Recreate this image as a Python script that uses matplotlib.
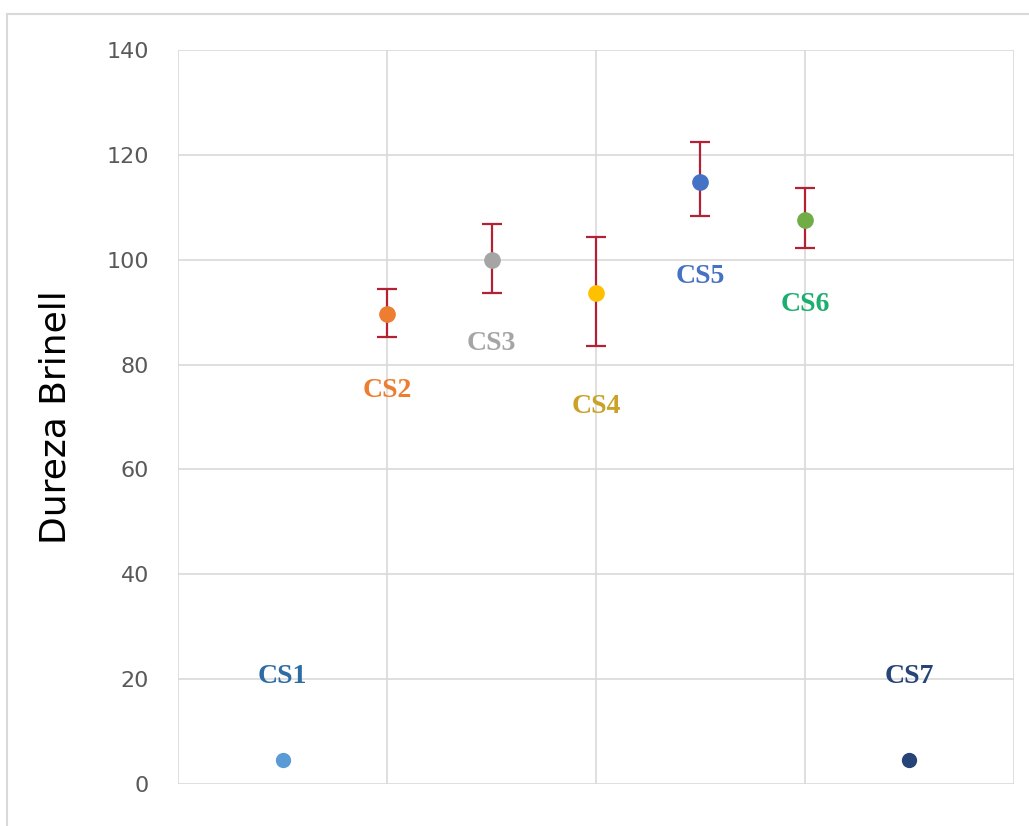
import numpy as np
import matplotlib.pyplot as plt
from matplotlib.lines import Line2D

samples = ["CS1", "CS2", "CS3", "CS4", "CS5", "CS6", "CS7"]
positions = [1, 2, 3, 4, 5, 6, 7]
hardness = [4.6, 89.6, 100.0, 93.6, 114.8, 107.6, 4.6]
err_low = [0.0, 4.4, 6.4, 10.0, 6.4, 5.4, 0.0]
err_high = [0.0, 4.8, 6.8, 10.8, 7.6, 6.1, 0.0]
label_y = [20.5, 75.0, 84.0, 72.0, 96.8, 91.4, 20.6]

marker_colors = ["#5B9BD5", "#ED7D31", "#A5A5A5", "#FFC000",
                 "#4472C4", "#70AD47", "#264478"]
label_colors = ["#2E6DA4", "#ED7D31", "#A5A5A5", "#C9A227",
                "#4472C4", "#1AAE6F", "#264478"]

fig = plt.figure(figsize=(10.29, 8.26), dpi=100)
ax = fig.add_axes([0.173, 0.0508, 0.8124, 0.8887])

# outer chart frame
fig.add_artist(Line2D([0.007, 1.0], [0.983, 0.983], color="#D9D9D9", lw=1.5,
                      transform=fig.transFigure))
fig.add_artist(Line2D([0.007, 0.007], [0.0, 0.983], color="#D9D9D9", lw=1.5,
                      transform=fig.transFigure))

for i in range(len(samples)):
    has_err = err_low[i] > 0
    ax.errorbar(
        positions[i], hardness[i],
        yerr=[[err_low[i]], [err_high[i]]] if has_err else None,
        fmt="o",
        ms=11 if has_err else 10,
        color=marker_colors[i],
        ecolor="#B22234",
        elinewidth=1.6,
        capsize=7,
        capthick=1.6,
        zorder=3,
    )
    ax.text(positions[i], label_y[i], samples[i], ha="center", va="center",
            fontsize=20, fontweight="bold", family="Liberation Serif",
            color=label_colors[i], zorder=4)

ax.set_xlim(0, 8)
ax.set_ylim(0, 140)
ax.set_xticks([0, 2, 4, 6, 8])
ax.set_yticks(np.arange(0, 141, 20))
ax.tick_params(axis="x", length=0, labelbottom=False)
ax.tick_params(axis="y", length=0, pad=21, labelsize=16, labelcolor="#595959")
ax.grid(True, color="#D9D9D9", lw=1.2)
ax.set_axisbelow(True)
for s in ax.spines.values():
    s.set_visible(False)

ax.set_ylabel("Dureza Brinell", fontsize=26, color="#000000", labelpad=24)

fig.savefig("out.png", dpi=100)
